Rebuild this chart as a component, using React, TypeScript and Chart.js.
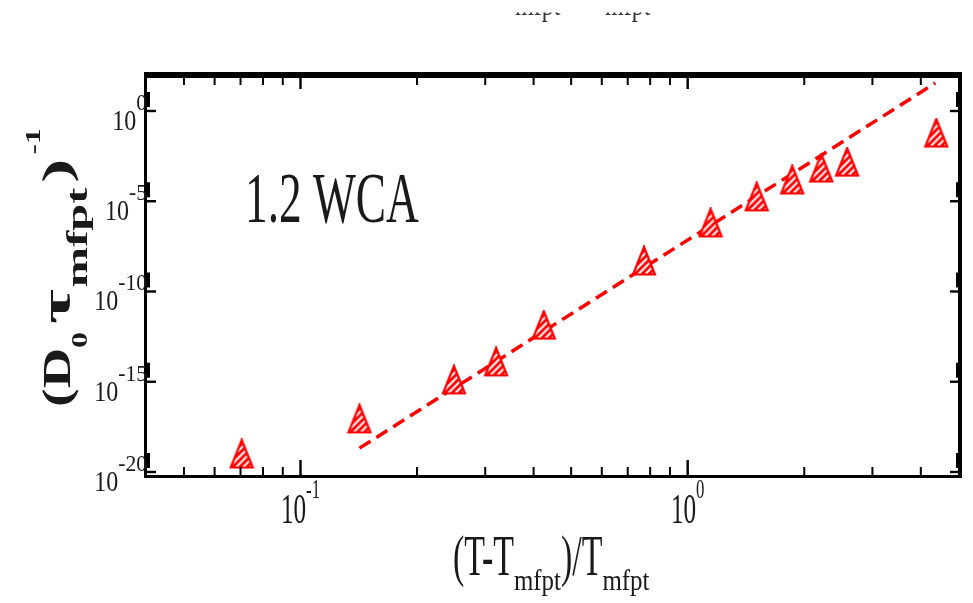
import { useEffect, useRef } from "react";
import { Chart, registerables } from "chart.js";

Chart.register(...registerables);

// Reduced temperature (T - T_mfpt)/T_mfpt of each run
const reducedTemperature = [0.0705, 0.142, 0.249, 0.32, 0.425, 0.771, 1.146, 1.507, 1.862, 2.213, 2.58, 4.385];
// Inverse scaled mean first-passage time (D_0 tau_mfpt)^-1
const inverseMfpt = [1.0e-19, 8.7e-18, 1.26e-15, 1.26e-14, 1.38e-12, 4.9e-9, 6.3e-7, 1.74e-5, 1.51e-4, 6.9e-4, 1.48e-3, 6.0e-2];
// Power-law fit, drawn between its two end points
const fitTemperature = [0.142, 4.36];
const fitInverseMfpt = [2.1e-19, 35.5];

const xRange = [0.0399, 5.05];
const yRange = [6.0e-21, 112];
const xMajorTicks = [0.1, 1];
const xMajorExponents = ["-1", "0"];
const xMinorTicks = [0.05, 0.06, 0.07, 0.08, 0.09, 0.2, 0.3, 0.4, 0.5, 0.6, 0.7, 0.8, 0.9, 2, 3, 4];
const yMajorTicks = [1, 1e-5, 1e-10, 1e-15, 1e-20];
const yMajorExponents = ["0", "-5", "-10", "-15", "-20"];
const panelLabel = "1.2 WCA";

const SERIF = "'Liberation Serif', 'DejaVu Serif', serif";
const RED = "#ff0000";

type Run = { text: string; font: string; dy: number; sx: number; gap?: number };

function runsWidth(ctx: CanvasRenderingContext2D, runs: Run[]) {
  let w = 0;
  for (const r of runs) {
    ctx.font = r.font;
    w += (r.gap || 0) + ctx.measureText(r.text).width * r.sx;
  }
  return w;
}

function drawRuns(ctx: CanvasRenderingContext2D, runs: Run[], x: number, y: number, sy = 1) {
  let cx = x;
  for (const r of runs) {
    cx += r.gap || 0;
    ctx.font = r.font;
    const w = ctx.measureText(r.text).width;
    ctx.save();
    ctx.translate(cx, y + r.dy);
    ctx.scale(r.sx, sy);
    ctx.textAlign = "left";
    ctx.textBaseline = "alphabetic";
    ctx.fillText(r.text, 0, 0);
    ctx.restore();
    cx += w * r.sx;
  }
  return cx - x;
}

function makeMarker(): HTMLCanvasElement {
  const c = document.createElement("canvas");
  c.width = 26;
  c.height = 31;
  const g = c.getContext("2d")!;
  const path = () => {
    g.beginPath();
    g.moveTo(13, 1.5);
    g.lineTo(24, 29);
    g.lineTo(2, 29);
    g.closePath();
  };
  path();
  g.fillStyle = RED;
  g.fill();
  g.save();
  path();
  g.clip();
  g.strokeStyle = "#ffffff";
  g.lineWidth = 2;
  for (let k = -30; k < 60; k += 7) {
    g.beginPath();
    g.moveTo(k, 31);
    g.lineTo(k + 31, 0);
    g.stroke();
  }
  g.restore();
  path();
  g.strokeStyle = RED;
  g.lineWidth = 2.2;
  g.stroke();
  return c;
}

const framePlugin = {
  id: "frameAndText",
  afterDraw(chart: any) {
    const { ctx, chartArea: a, scales } = chart;
    const xs = scales.x;
    const ys = scales.y;
    ctx.save();
    ctx.fillStyle = "#000";

    // frame
    ctx.fillRect(a.left - 2, a.top - 2, a.right - a.left + 4, 6);
    ctx.fillRect(a.left - 2, a.top - 2, 3, a.bottom - a.top + 4);
    ctx.fillRect(a.left - 2, a.bottom - 1, a.right - a.left + 4, 3);
    ctx.fillRect(a.right - 2, a.top - 2, 4, a.bottom - a.top + 4);

    // x ticks (bottom and top, pointing inward)
    for (const v of xMinorTicks) {
      const x = xs.getPixelForValue(v);
      ctx.fillRect(x - 1, a.bottom - 9, 2, 9);
      ctx.fillRect(x - 1, a.top + 4, 2, 7);
    }
    for (const v of xMajorTicks) {
      const x = xs.getPixelForValue(v);
      ctx.fillRect(x - 1.2, a.bottom - 16, 2.4, 16);
      ctx.fillRect(x - 1.2, a.top + 4, 2.4, 11);
    }
    // y ticks (left and right)
    for (const v of yMajorTicks) {
      const y = ys.getPixelForValue(v);
      ctx.fillRect(a.left, y - 1.2, 10, 2.4);
      ctx.fillRect(a.left - 1, y - 19, 5, 15);
      ctx.fillRect(a.right - 10, y - 1.2, 10, 2.4);
      ctx.fillRect(a.right - 4, y - 19, 5, 15);
    }

    ctx.fillStyle = "#1a1a1a";
    // x tick labels
    xMajorTicks.forEach((v, i) => {
      const runs: Run[] = [
        { text: "10", font: `42px ${SERIF}`, dy: 0, sx: 0.6 },
        { text: xMajorExponents[i], font: `28px ${SERIF}`, dy: -25, sx: 0.6 },
      ];
      const w = runsWidth(ctx, runs);
      drawRuns(ctx, runs, xs.getPixelForValue(v) - w / 2, a.bottom + 47);
    });
    // y tick labels
    yMajorTicks.forEach((v, i) => {
      const runs: Run[] = [
        { text: "10", font: `30px ${SERIF}`, dy: 0, sx: 0.8 },
        { text: yMajorExponents[i], font: `24px ${SERIF}`, dy: -20, sx: 0.9 },
      ];
      const w = runsWidth(ctx, runs);
      drawRuns(ctx, runs, a.left + 1 - w, ys.getPixelForValue(v) + 19);
    });

    // x axis title
    drawRuns(
      ctx,
      [
        { text: "(T-T", font: `58px ${SERIF}`, dy: 0, sx: 0.585 },
        { text: "mfpt", font: `30px ${SERIF}`, dy: 15, sx: 0.83 },
        { text: ")/T", font: `58px ${SERIF}`, dy: 0, sx: 0.585 },
        { text: "mfpt", font: `30px ${SERIF}`, dy: 15, sx: 0.83 },
      ],
      453,
      575
    );

    // y axis title, rotated
    ctx.save();
    ctx.translate(70, 407);
    ctx.rotate(-Math.PI / 2);
    drawRuns(
      ctx,
      [
        { text: "(D", font: `bold 56px ${SERIF}`, dy: 0, sx: 1 },
        { text: "0", font: `bold 32px ${SERIF}`, dy: 17, sx: 1 },
        { text: "\u03c4", font: `bold 58px ${SERIF}`, dy: 0, sx: 1.3, gap: 8 },
        { text: "mfpt", font: `bold 41px ${SERIF}`, dy: 17, sx: 1.18, gap: 2 },
        { text: ")", font: `bold 56px ${SERIF}`, dy: 0, sx: 1.3, gap: 5 },
        { text: "-1", font: `bold 30px ${SERIF}`, dy: -30, sx: 1.05, gap: 4 },
      ],
      0,
      0,
      0.7
    );
    ctx.restore();

    // panel label
    drawRuns(ctx, [{ text: panelLabel, font: `72px ${SERIF}`, dy: 0, sx: 0.63 }], 245, 222);

    // subscripts of a heading cut off at the top edge
    ctx.save();
    ctx.beginPath();
    ctx.rect(0, 12.5, chart.width, 30);
    ctx.clip();
    ctx.fillStyle = "#333";
    drawRuns(ctx, [{ text: "mfpt", font: `32px ${SERIF}`, dy: 0, sx: 0.75 }], 515, 15);
    drawRuns(ctx, [{ text: "mfpt", font: `32px ${SERIF}`, dy: 0, sx: 0.75 }], 605, 15);
    ctx.restore();

    ctx.restore();
  },
};

export default function App() {
  const ref = useRef<HTMLCanvasElement>(null);

  useEffect(() => {
    const canvas = ref.current;
    if (!canvas) return;
    const marker = makeMarker();
    const chart = new Chart(canvas, {
      type: "scatter",
      data: {
        datasets: [
          {
            label: "1.2 WCA",
            data: reducedTemperature.map((x, i) => ({ x, y: inverseMfpt[i] })),
            pointStyle: marker as any,
            pointRadius: 12,
            pointHoverRadius: 12,
            showLine: false,
          },
          {
            label: "fit",
            data: fitTemperature.map((x, i) => ({ x, y: fitInverseMfpt[i] })),
            showLine: true,
            borderColor: RED,
            borderWidth: 3.5,
            borderDash: [13, 7],
            borderCapStyle: "butt",
            pointRadius: 0,
            fill: false,
          },
        ],
      },
      options: {
        animation: false,
        responsive: false,
        maintainAspectRatio: false,
        devicePixelRatio: 1,
        events: [],
        layout: { padding: { left: 146, right: 11, top: 74, bottom: 127 } },
        scales: {
          x: { type: "logarithmic", min: xRange[0], max: xRange[1], display: false },
          y: { type: "logarithmic", min: yRange[0], max: yRange[1], display: false },
        },
        plugins: { legend: { display: false }, tooltip: { enabled: false } },
      },
      plugins: [framePlugin],
    } as any);
    return () => chart.destroy();
  }, []);

  return (
    <canvas
      ref={ref}
      width={973}
      height={603}
      style={{ position: "absolute", left: 0, top: 0, width: 973, height: 603, background: "#fff" }}
    />
  );
}
